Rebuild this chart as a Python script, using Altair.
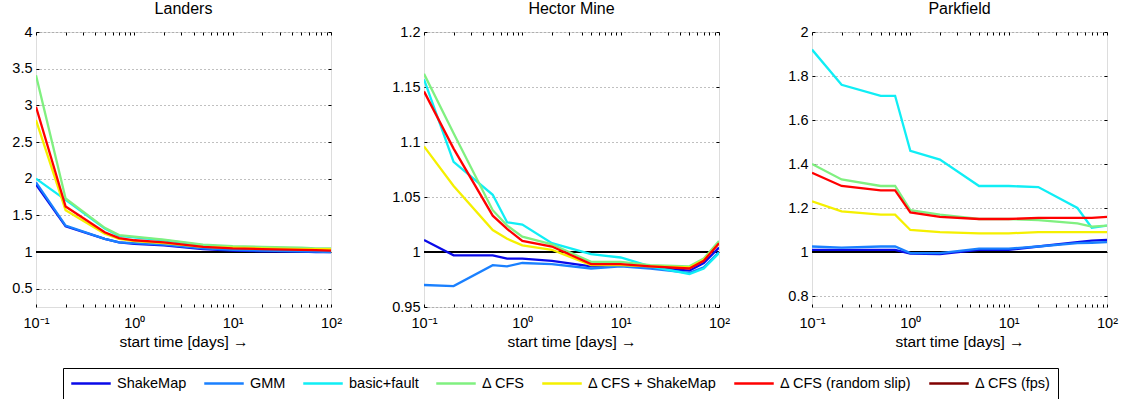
import altair as alt
import pandas as pd

FONT = "Liberation Sans"

t_days = [0.1, 0.2, 0.5, 0.7, 1, 2, 5, 10, 20, 50, 70, 100]
series = ["ShakeMap", "GMM", "basic+fault", "Δ CFS", "Δ CFS + ShakeMap",
          "Δ CFS (random slip)", "Δ CFS (fps)"]
colors = ["#0a0ae8", "#1a80ff", "#10eef5", "#80f080", "#f5f000", "#ff0000", "#800000"]

x_tick_values = [0.1, 0.2, 0.3, 0.4, 0.5, 0.6, 0.7, 0.8, 0.9,
                 1, 2, 3, 4, 5, 6, 7, 8, 9,
                 10, 20, 30, 40, 50, 60, 70, 80, 90, 100]

# Landers
landers = {
    "ShakeMap": [1.92, 1.35, 1.18, 1.13, 1.11, 1.09, 1.04, 1.02, 1.01, 1.005, 1.0, 1.0],
    "GMM": [1.95, 1.36, 1.18, 1.13, 1.12, 1.10, 1.05, 1.03, 1.02, 1.01, 1.005, 1.0],
    "basic+fault": [2.0, 1.71, 1.32, 1.22, 1.20, 1.16, 1.09, 1.07, 1.06, 1.05, 1.04, 1.03],
    "Δ CFS": [3.41, 1.73, 1.33, 1.23, 1.21, 1.17, 1.10, 1.08, 1.07, 1.06, 1.05, 1.05],
    "Δ CFS + ShakeMap": [2.8, 1.57, 1.25, 1.18, 1.15, 1.12, 1.07, 1.06, 1.05, 1.04, 1.04, 1.04],
    "Δ CFS (random slip)": [2.98, 1.62, 1.27, 1.19, 1.16, 1.13, 1.07, 1.05, 1.04, 1.03, 1.025, 1.02],
}
# Hector Mine
hector = {
    "ShakeMap": [1.011, 0.997, 0.997, 0.994, 0.994, 0.992, 0.987, 0.988, 0.986, 0.983, 0.990, 1.004],
    "GMM": [0.970, 0.969, 0.988, 0.987, 0.990, 0.989, 0.985, 0.987, 0.985, 0.981, 0.986, 1.000],
    "basic+fault": [1.157, 1.082, 1.052, 1.027, 1.025, 1.008, 0.998, 0.995, 0.987, 0.980, 0.985, 0.999],
    "Δ CFS": [1.162, 1.108, 1.038, 1.024, 1.014, 1.007, 0.991, 0.991, 0.988, 0.987, 0.994, 1.010],
    "Δ CFS + ShakeMap": [1.096, 1.060, 1.020, 1.012, 1.006, 1.002, 0.988, 0.988, 0.987, 0.986, 0.993, 1.008],
    "Δ CFS (random slip)": [1.146, 1.094, 1.033, 1.021, 1.010, 1.005, 0.989, 0.989, 0.987, 0.985, 0.992, 1.008],
}
# Parkfield
parkfield = {
    "ShakeMap": [1.010, 1.010, 1.010, 1.010, 0.993, 0.990, 1.010, 1.010, 1.025, 1.045, 1.052, 1.055],
    "GMM": [1.025, 1.020, 1.025, 1.025, 0.995, 0.995, 1.015, 1.015, 1.025, 1.040, 1.042, 1.045],
    "basic+fault": [1.92, 1.76, 1.71, 1.71, 1.46, 1.42, 1.30, 1.30, 1.295, 1.20, 1.11, 1.12],
    "Δ CFS": [1.40, 1.33, 1.30, 1.30, 1.19, 1.17, 1.15, 1.15, 1.145, 1.13, 1.115, 1.12],
    "Δ CFS + ShakeMap": [1.23, 1.185, 1.17, 1.17, 1.10, 1.09, 1.085, 1.085, 1.09, 1.09, 1.09, 1.09],
    "Δ CFS (random slip)": [1.36, 1.30, 1.28, 1.28, 1.18, 1.16, 1.15, 1.15, 1.155, 1.155, 1.155, 1.16],
}

landers_yticks = [0.5, 1, 1.5, 2, 2.5, 3, 3.5, 4]
hector_yticks = [0.95, 1, 1.05, 1.1, 1.15, 1.2]
parkfield_yticks = [0.8, 1, 1.2, 1.4, 1.6, 1.8, 2]

reference_level = [1.0]

x_label_expr = ("datum.value == 0.1 ? '10⁻¹' : datum.value == 1 ? '10⁰' : "
                "datum.value == 10 ? '10¹' : datum.value == 100 ? '10²' : ''")


def panel(name, data, ydomain, yticks):
    rows = []
    for s in series:
        if s not in data:
            continue
        for t, v in zip(t_days, data[s]):
            rows.append({"t": t, "v": v, "s": s, "k": series.index(s)})
    df = pd.DataFrame(rows)

    xscale = alt.Scale(type="log", domain=[0.1, 100], nice=False)
    yscale = alt.Scale(domain=ydomain, nice=False, zero=False)

    xaxis = alt.Axis(values=x_tick_values, labelExpr=x_label_expr,
                     title="start time [days] →", grid=False, domain=False,
                     offset=-3, tickSize=3, tickColor="black",
                     labelPadding=9, labelFont=FONT, labelFontSize=14.5,
                     labelColor="black", labelFlush=False,
                     titleFont=FONT, titleFontSize=15.5, titleFontWeight="normal",
                     titleColor="black", titlePadding=5)
    yaxis = alt.Axis(orient="left", values=yticks, format="~g", title=None,
                     grid=True, gridDash=[1, 3], gridColor="#808080", gridWidth=1,
                     domain=False, offset=-3, tickSize=3, tickColor="black",
                     labelPadding=4, labelFont=FONT, labelFontSize=14.5,
                     labelColor="black", labelFlush=False)
    # mirrored inward ticks on the top and right frame edges
    xaxis_top = alt.Axis(orient="top", values=x_tick_values, labels=False,
                         title=None, grid=False, domain=False, offset=-3,
                         tickSize=3, tickColor="black")
    yaxis_right = alt.Axis(orient="right", values=yticks, labels=False,
                           title=None, grid=False, domain=False, offset=-3,
                           tickSize=3, tickColor="black")

    ref = alt.Chart(pd.DataFrame({"v": reference_level})).mark_rule(
        color="black", strokeWidth=2
    ).encode(y=alt.Y("v:Q", scale=yscale, axis=None))

    lines = alt.Chart(df).mark_line(strokeWidth=2.3, clip=True).encode(
        x=alt.X("t:Q", scale=xscale, axis=xaxis),
        y=alt.Y("v:Q", scale=yscale, axis=yaxis),
        color=alt.Color("s:N", scale=alt.Scale(domain=series, range=colors),
                        legend=alt.Legend(
                            orient="none", legendX=27, legendY=336,
                            direction="horizontal", title=None,
                            symbolType="stroke", symbolStrokeWidth=2.5,
                            symbolSize=1560, clipHeight=17,
                            labelFont=FONT, labelFontSize=14.5,
                            labelColor="black", columnPadding=16,
                            strokeColor="black", fillColor="white",
                            padding=7, labelOffset=5)),
        order=alt.Order("k:Q"),
        detail="s:N",
    )

    frame_ticks = alt.Chart(df).mark_line(opacity=0).encode(
        x=alt.X("t:Q", scale=xscale, axis=xaxis_top),
        y=alt.Y("v:Q", scale=yscale, axis=yaxis_right),
        detail="s:N",
    )

    return alt.layer(ref, lines, frame_ticks).resolve_axis(
        x="independent", y="independent"
    ).properties(
        width=295, height=275,
        title=alt.TitleParams(text=name, font=FONT, fontSize=16,
                              fontWeight="normal", color="black", offset=7),
    )


chart = alt.hconcat(
    panel("Landers", landers, [0.25, 4], landers_yticks),
    panel("Hector Mine", hector, [0.95, 1.2], hector_yticks),
    panel("Parkfield", parkfield, [0.75, 2], parkfield_yticks),
    spacing=93, bounds="flush",
).properties(
    padding={"left": 11, "top": 0, "right": 5, "bottom": 0},
).configure_view(
    stroke="black", strokeWidth=1
).configure(background="white")

chart.save("out.html", embed_options={"renderer": "svg", "actions": False})
